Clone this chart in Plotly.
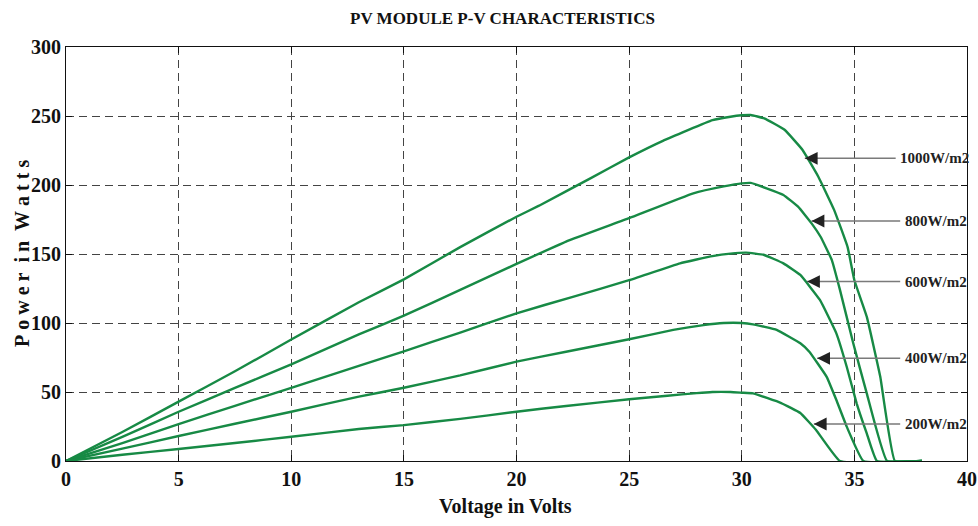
import plotly.graph_objects as go

# ---- data ----
v_1000 = [0, 2.5, 5, 7.5, 10, 13, 15, 17.5, 20, 21, 23.3, 25, 26.5, 28.7, 29.5, 30, 30.4, 31.0, 31.9, 32.7, 33.4, 34.1, 34.7, 35.0, 35.55, 36.15, 36.8, 38]
p_1000 = [0, 21, 43, 65, 88, 115, 131.6, 155, 177, 185, 205, 220, 232, 247, 249.5, 250.5, 250.7, 248.3, 240, 225.4, 206, 182, 155, 131, 104.6, 61, 0, 0]

v_800 = [0, 2.5, 5, 7.5, 10, 13, 15, 17.5, 20, 22.2, 25, 27.85, 29.2, 30, 30.4, 31.1, 31.85, 32.5, 33.1, 33.5, 34.0, 34.36, 34.95, 35.55, 36.45, 38]
p_800 = [0, 17.5, 35.7, 53, 70, 91.8, 105.3, 124, 142.8, 159, 176, 194, 199, 201.2, 201.5, 197.6, 192.8, 184.3, 172.2, 162.5, 145.6, 124, 85.3, 49, 0, 0]

v_600 = [0, 2.5, 5, 7.5, 10, 13, 15, 17.5, 20, 22.5, 25, 27.26, 28.7, 29.5, 30.2, 31.0, 31.85, 32.6, 33.47, 34.2, 34.66, 35.1, 35.55, 36.0, 38]
p_600 = [0, 13, 26.8, 40, 53, 69, 79.5, 93, 107, 119, 131, 143.2, 148.5, 150.3, 151, 149.3, 143.2, 134.8, 116.7, 92.5, 68.3, 41.8, 20, 0, 0]

v_400 = [0, 2.5, 5, 7.5, 10, 13, 15, 17.5, 20, 22.2, 25, 26.96, 28.3, 29.2, 30.0, 30.5, 31.55, 32.6, 33.0, 33.77, 34.2, 34.66, 35.4, 38]
p_400 = [0, 9, 18.1, 27, 35.7, 46.6, 53.1, 62, 72, 79.2, 88.2, 95, 98.5, 100, 100, 99, 95, 85.3, 79.2, 61, 44.2, 24.9, 0, 0]

v_200 = [0, 2.5, 5, 7.5, 10, 13, 15, 17.5, 20, 22.2, 25, 26.7, 28.0, 28.7, 29.5, 30.0, 30.5, 31.75, 32.6, 33.3, 34.36, 38]
p_200 = [0, 4.5, 8.7, 13, 17.6, 23.2, 26, 30.5, 35.7, 39.9, 44.7, 47.3, 49.2, 50, 50, 49.5, 49, 42, 34.8, 22.5, 0, 0]

series_names = ["1000W/m2", "800W/m2", "600W/m2", "400W/m2", "200W/m2"]
series_v = [v_1000, v_800, v_600, v_400, v_200]
series_p = [p_1000, p_800, p_600, p_400, p_200]

# arrow head positions (voltage, power) and label tail voltage
arrow_head_v = [32.8, 33.1, 32.9, 33.35, 33.2]
arrow_p = [219.3, 173.9, 130.0, 74.4, 26.8]
label_v = [36.95, 37.15, 37.15, 37.15, 37.15]

x_ticks = [0, 5, 10, 15, 20, 25, 30, 35, 40]
y_ticks = [0, 50, 100, 150, 200, 250, 300]

FONT = "Liberation Serif"
GREEN = "#178a45"

fig = go.Figure()
for name, v, p in zip(series_names, series_v, series_p):
    fig.add_trace(go.Scatter(x=v, y=p, mode="lines", name=name,
                             line=dict(color=GREEN, width=2.4, shape="spline", smoothing=0.3),
                             showlegend=False))

annotations = []
for hv, p, lv, name in zip(arrow_head_v, arrow_p, label_v, series_names):
    annotations.append(dict(x=hv, y=p, ax=lv - 0.05, ay=p, xref="x", yref="y",
                            axref="x", ayref="y", text="", showarrow=True,
                            arrowhead=0, arrowwidth=1.5, arrowcolor="#7a7a7a"))
    annotations.append(dict(x=hv, y=p, ax=hv + 0.45, ay=p, xref="x", yref="y",
                            axref="x", ayref="y", text="", showarrow=True,
                            arrowhead=2, arrowsize=1.6, arrowwidth=1.6, arrowcolor="#222222"))
    annotations.append(dict(x=lv, y=p, xref="x", yref="y", text=name, showarrow=False,
                            xanchor="left", yanchor="middle",
                            font=dict(family=FONT, size=15, color="#222222", weight="bold")))

annotations.append(dict(x=0.4845, y=1.070, xref="paper", yref="paper",
                        text="PV MODULE P-V CHARACTERISTICS", showarrow=False,
                        xanchor="center", yanchor="middle",
                        font=dict(family=FONT, size=17, color="#111111", weight="bold")))
annotations.append(dict(x=0.488, y=-0.109, xref="paper", yref="paper",
                        text="Voltage in Volts", showarrow=False,
                        xanchor="center", yanchor="middle",
                        font=dict(family=FONT, size=20, color="#111111", weight="bold")))
annotations.append(dict(x=-0.0488, y=0.5, xref="paper", yref="paper",
                        text="P\u00a0o\u00a0w\u00a0e\u00a0r\u00a0\u00a0i\u00a0n\u00a0\u00a0W\u00a0a\u00a0t\u00a0t\u00a0s",
                        showarrow=False, textangle=-90,
                        xanchor="center", yanchor="middle",
                        font=dict(family=FONT, size=20, color="#111111", weight="bold")))

axis_common = dict(showline=True, linecolor="#111111", linewidth=1.2, mirror="ticks",
                   ticks="inside", ticklen=6, tickcolor="#111111",
                   showgrid=True, gridcolor="#444444", gridwidth=1, griddash="8px,5px",
                   zeroline=False, automargin=False, ticklabeloverflow="allow",
                   tickfont=dict(family=FONT, size=20, color="#111111", weight="bold"))

fig.update_xaxes(range=[0, 40], tickvals=x_ticks, ticktext=[str(t) for t in x_ticks], **axis_common)
fig.update_yaxes(range=[0, 300], tickvals=y_ticks, ticktext=[str(t) for t in y_ticks], **axis_common)

fig.update_layout(width=978, height=526, margin=dict(l=66, r=11, t=47, b=65),
                  paper_bgcolor="white", plot_bgcolor="white",
                  annotations=annotations)

fig.write_html("out.html", config={"displayModeBar": False},
               post_script="document.body.style.margin='0px';document.body.style.overflow='hidden';")
